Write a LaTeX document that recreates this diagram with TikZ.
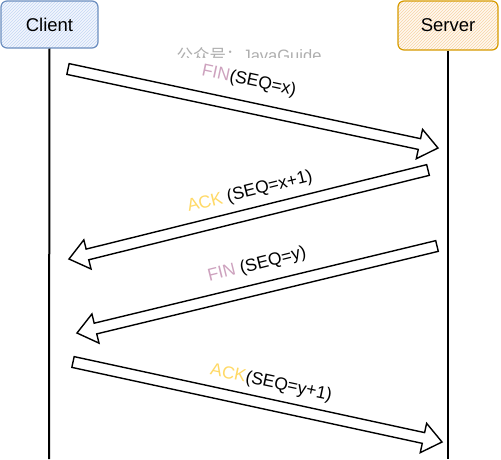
\documentclass[tikz,border=0pt]{standalone}
\usepackage{fontspec}
\setmainfont{Liberation Sans}
\newfontfamily\cjkfont{Noto Sans CJK SC}
\usetikzlibrary{calc,patterns}
\definecolor{finc}{HTML}{CDA2BE}
\definecolor{ackc}{HTML}{FFD966}
\definecolor{cstroke}{HTML}{6C8EBF}
\definecolor{cfill}{HTML}{C4D7F4}
\definecolor{cfillb}{HTML}{F2F6FD}
\definecolor{sstroke}{HTML}{D79B00}
\definecolor{sfill}{HTML}{F7D4A6}
\definecolor{sfillb}{HTML}{FFF8F0}
\definecolor{wmark}{HTML}{AEAEAE}
\tikzset{
  actor/.style={rounded corners=6pt, line width=1.2pt, inner sep=0pt,
    font=\fontsize{18.5}{22}\selectfont},
  lifeline/.style={line width=2pt, black},
  hollow/.style={line width=1.4pt, black, fill=white, line join=miter},
  msg/.style={inner sep=0pt, font=\fontsize{17.5}{21}\selectfont},
}
% #1 tail coordinate, #2 tip coordinate
\newcommand\hollowarrow[2]{%
  \coordinate (hb) at ($(#2)!19pt!(#1)$);
  \draw[hollow] ($(#1)!5.5pt!90:(#2)$) -- ($(hb)!5.5pt!-90:(#1)$)
    -- ($(hb)!15pt!-90:(#1)$) -- (#2) -- ($(hb)!15pt!90:(#1)$)
    -- ($(hb)!5.5pt!90:(#1)$) -- ($(#1)!5.5pt!-90:(#2)$) -- cycle;
}
\begin{document}
\begin{tikzpicture}[x=1pt,y=-1pt]
\useasboundingbox (0,0) rectangle (501,459);
% actors
\node[actor, draw=cstroke, preaction={fill=cfillb}, pattern=north east lines, pattern color=cfill,
  minimum width=97pt, minimum height=47pt] (client) at (49.5,24.5) {Client};
\node[actor, draw=sstroke, preaction={fill=sfillb}, pattern=north east lines, pattern color=sfill,
  minimum width=100pt, minimum height=49pt] (server) at (448,25.5) {Server};
% watermark
\begin{scope}
  \clip (100,30) rectangle (400,57);
  \node[inner sep=0pt, text=wmark, font=\fontsize{16.5}{20}\selectfont] (wm) at (249,55)
    {{\cjkfont 公众号：}JavaGuide};
\end{scope}
% lifelines
\coordinate (cbot) at (49,459);
\coordinate (sbot) at (448,459);
\draw[lifeline] (client.south) -- (cbot);
\draw[lifeline] (server.south) -- (sbot);
% message arrows
\coordinate (a1t) at (68,69);   \coordinate (a1h) at (438,148);
\coordinate (a2t) at (428,170); \coordinate (a2h) at (69,259);
\coordinate (a3t) at (437,246); \coordinate (a3h) at (77,333);
\coordinate (a4t) at (73,362);  \coordinate (a4h) at (442,442);
\hollowarrow{a1t}{a1h}
\hollowarrow{a2t}{a2h}
\hollowarrow{a3t}{a3h}
\hollowarrow{a4t}{a4h}
% labels
\node[msg, rotate=-12] (l1) at (249,81) {\textcolor{finc}{FIN}(SEQ=x)};
\node[msg, rotate=14] (l2) at (250,192) {\textcolor{ackc}{ACK} (SEQ=x+1)};
\node[msg, rotate=14] (l3) at (257,265) {\textcolor{finc}{FIN} (SEQ=y)};
\node[msg, rotate=-12] (l4) at (271,383) {\textcolor{ackc}{ACK}(SEQ=y+1)};
\end{tikzpicture}
\end{document}
